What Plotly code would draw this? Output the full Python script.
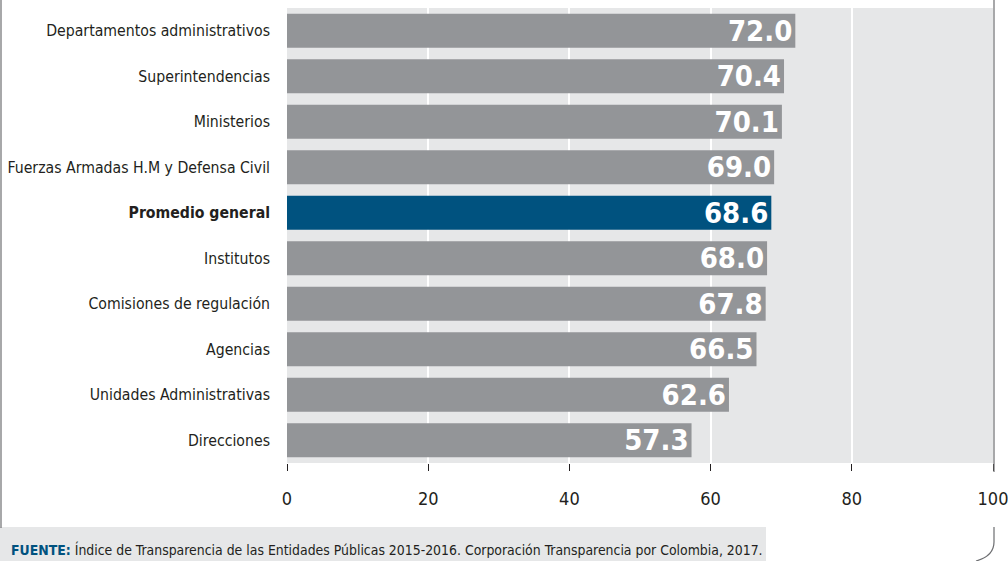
import plotly.graph_objects as go

categories = [
    "Departamentos administrativos",
    "Superintendencias",
    "Ministerios",
    "Fuerzas Armadas H.M y Defensa Civil",
    "Promedio general",
    "Institutos",
    "Comisiones de regulación",
    "Agencias",
    "Unidades Administrativas",
    "Direcciones",
]
values = [72.0, 70.4, 70.1, 69.0, 68.6, 68.0, 67.8, 66.5, 62.6, 57.3]
highlight = "Promedio general"
x_ticks = [0, 20, 40, 60, 80, 100]

GRAY = "#939598"
BLUE = "#00527f"
BG = "#e6e7e8"
DARK = "#231f20"
FONT = "DejaVu Sans Condensed, sans-serif"

W, H = 1008, 561
L, R, T, B = 287, 993, 8, 463


def px(x):
    return (x - L) / (R - L)


def py(y):
    return (B - y) / (B - T)


colors = [BLUE if c == highlight else GRAY for c in categories]
ticktext = ["<b>%s</b>" % c if c == highlight else c for c in categories]

fig = go.Figure(
    go.Bar(
        x=values,
        y=categories,
        orientation="h",
        marker=dict(color=colors, line=dict(width=0)),
        text=["%.1f" % v for v in values],
        textposition="inside",
        insidetextanchor="end",
        constraintext="none",
        textfont=dict(family=FONT, size=29, color="white", weight="bold"),
        hoverinfo="skip",
    )
)

shapes = [
    dict(type="line", xref="paper", yref="paper", x0=px(1), x1=px(1), y0=py(0), y1=py(528),
         line=dict(color="#6d6e71", width=1.2)),
    dict(type="line", xref="paper", yref="paper", x0=px(994), x1=px(994), y0=py(0), y1=py(472),
         line=dict(color="#6d6e71", width=1.2)),
    dict(type="path", xref="paper", yref="paper",
         path="M %f,%f L %f,%f Q %f,%f %f,%f" % (
             px(994), py(527), px(994), py(542), px(994), py(556), px(976), py(561)),
         line=dict(color="#6d6e71", width=1.2)),
    dict(type="rect", xref="paper", yref="paper", x0=px(0), x1=px(766), y0=py(527), y1=py(562),
         fillcolor=BG, line=dict(width=0), layer="below"),
]

annotations = [
    dict(xref="paper", yref="paper", x=px(9), y=py(549), xanchor="left", yanchor="middle",
         showarrow=False,
         text="<b><span style='color:%s'>FUENTE:</span></b> Índice de Transparencia de las Entidades Públicas 2015-2016. Corporación Transparencia por Colombia, 2017." % BLUE,
         font=dict(family=FONT, size=13.9, color=DARK)),
]

fig.update_layout(
    width=W,
    height=H,
    margin=dict(l=L, r=W - R, t=T, b=H - B, pad=0, autoexpand=False),
    paper_bgcolor="white",
    plot_bgcolor=BG,
    bargap=0.25,
    showlegend=False,
    font=dict(family=FONT, color=DARK),
    shapes=shapes,
    annotations=annotations,
    xaxis=dict(
        range=[0, 100],
        tickvals=x_ticks,
        ticktext=[str(t) for t in x_ticks],
        showgrid=True,
        gridcolor="white",
        gridwidth=2,
        zeroline=False,
        ticks="outside",
        ticklen=7,
        tickwidth=1,
        tickcolor=DARK,
        tickfont=dict(family=FONT, size=18, color=DARK),
        ticklabelstandoff=12,
        ticklabeloverflow="allow",
        showline=False,
        automargin=False,
        fixedrange=True,
    ),
    yaxis=dict(
        categoryorder="array",
        categoryarray=categories,
        autorange="reversed",
        tickvals=categories,
        ticktext=ticktext,
        tickfont=dict(family=FONT, size=15.7, color=DARK),
        ticklabelstandoff=16,
        showgrid=False,
        zeroline=False,
        showline=False,
        ticks="",
        automargin=False,
        fixedrange=True,
    ),
)

fig.write_html(
    "out.html",
    config={"displayModeBar": False},
    post_script="document.body.style.margin='0';document.body.style.overflow='hidden';",
)
